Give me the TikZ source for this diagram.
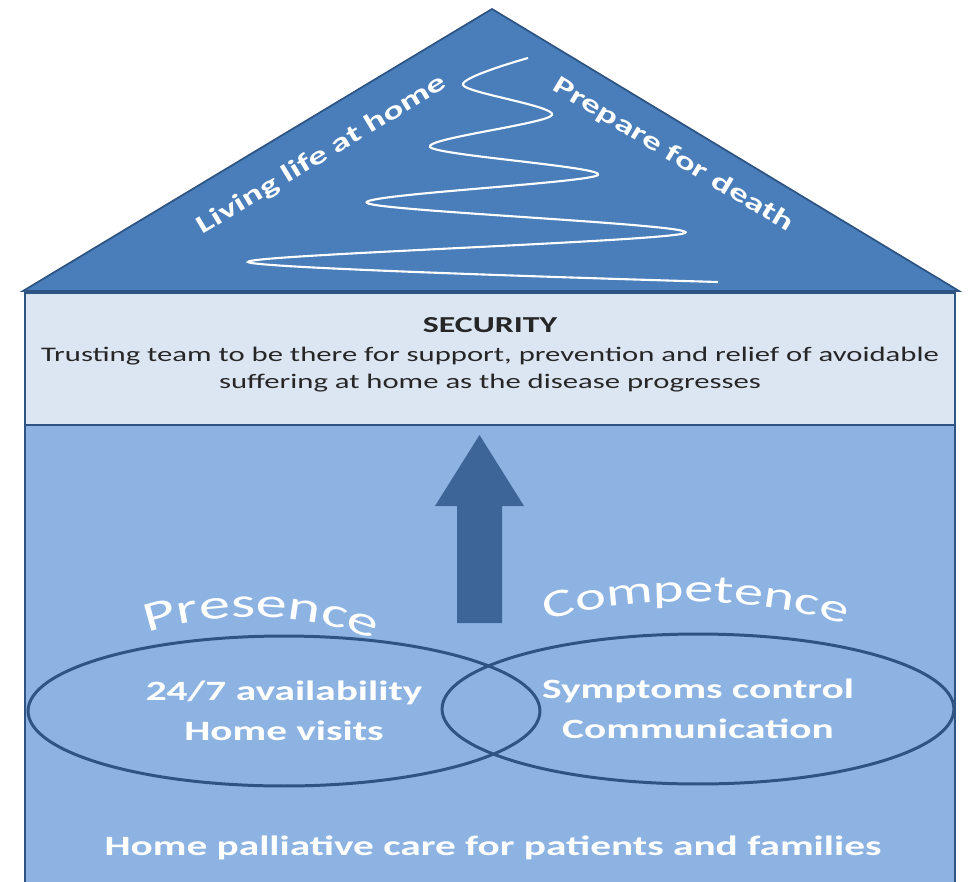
\documentclass[tikz,border=0pt]{standalone}
\usepackage{fontspec}
\setmainfont{Carlito}[FakeStretch=1.48]
\usetikzlibrary{shapes.geometric,decorations.text}
\definecolor{roofblue}{HTML}{4A7EBB}
\definecolor{wallblue}{HTML}{8DB3E2}
\definecolor{secblue}{HTML}{DCE6F2}
\definecolor{edgeblue}{HTML}{2D5482}
\definecolor{arrowblue}{HTML}{3D6598}
\newcommand\archfont{\fontsize{24}{24}\selectfont}
\newcommand\compfont{\fontsize{22.5}{24}\selectfont}

\begin{document}
\begin{tikzpicture}[x=0.02cm, y=-0.02cm,
        venn/.style={ellipse, draw=edgeblue, line width=1.7pt, minimum width=10.24cm, minimum height=3cm,
          align=center, text=white, font=\fontsize{15.9}{22.5}\selectfont\bfseries},
        secbox/.style={rectangle, draw=edgeblue, fill=secblue, line width=1.5pt,
          minimum width=18.6cm, minimum height=2.64cm},
        rooftext/.style={text=white, font=\fontsize{14.5}{16}\selectfont\bfseries},
        arch/.style={decorate, decoration={text along path, text align=center, text color=white}}]
  \useasboundingbox (0,0) rectangle (970,882);

  % walls
  \fill[wallblue] (25,425) rectangle (955,882);
  \draw[edgeblue, line width=1.5pt] (25,882) -- (25,425) -- (955,425) -- (955,882);

  % roof
  \coordinate (apex) at (492,9);
  \coordinate (eaveL) at (23,291);
  \coordinate (eaveR) at (959,291);
  \filldraw[fill=roofblue, draw=edgeblue, line width=1pt] (apex) -- (eaveR) -- (eaveL) -- cycle;
  \draw[white, line width=1.2pt] plot[smooth, tension=0.5] coordinates
    {(528,58) (463,85) (552,115) (430,147) (598,175) (367,203) (685,233) (248,262) (718,282)};
  \node[rooftext, rotate=31] (living) at (322,155) {Living life at home};
  \node[rooftext, rotate=-31] (prepare) at (673,155) {Prepare for death};

  % security
  \node[secbox] (sec) at (490,359) {};
  \node[align=center, text=black!85, font=\fontsize{11.8}{15.5}\selectfont] (sectext) at (490,355)
    {{\fontsize{13}{15}\selectfont\bfseries SECURITY}\\[1pt]
     Trusting team to be there for support, prevention and relief of avoidable\\
     suffering at home as the disease progresses};

  % arrow
  \fill[arrowblue] (457,623) -- (457,506) -- (435,506) -- (479.5,435) -- (524,506) -- (502,506) -- (502,623) -- cycle;

  % presence / competence
  \path[arch, decoration={text={|\archfont|Presence}}]
    (142,635) .. controls (210,610) and (300,610) .. (380,642);
  \path[arch, decoration={text={|\compfont|Competence}}]
    (545,622) .. controls (620,595) and (760,595) .. (847,625);

  \node[venn] (presence) at (284,711) {24/7 availability\\Home visits};
  \node[venn] (competence) at (698,709) {Symptoms control\\Communication};

  \node[text=white, font=\fontsize{15.9}{18}\selectfont\bfseries] (care) at (493,848)
    {Home palliative care for patients and families};
\end{tikzpicture}
\end{document}
